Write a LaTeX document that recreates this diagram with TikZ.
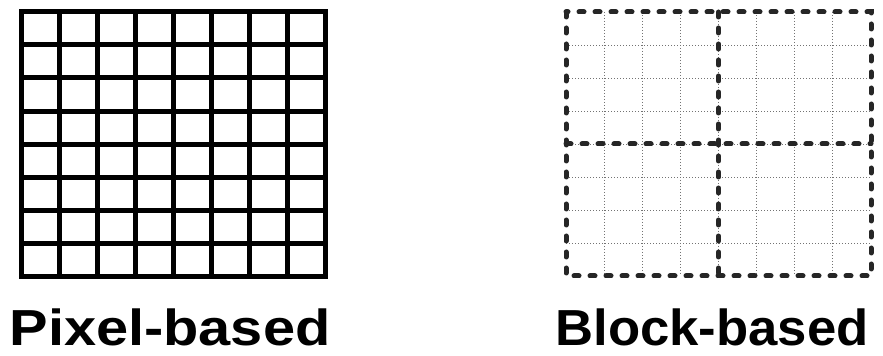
\documentclass[tikz,border=0pt]{standalone}
\usepackage{fontspec}
\setmainfont{Liberation Sans}

\begin{document}
\begin{tikzpicture}[
  x=0.75pt, y=-0.75pt,
  pixelline/.style={draw=black, line width=3.75pt},
  fineline/.style={draw=black!55, line width=0.6pt, dash pattern=on 0.75pt off 1.5pt},
  blockline/.style={draw=black!85, line width=3.75pt, line cap=round, dash pattern=on 3.75pt off 8.25pt},
  caption/.style={font=\bfseries\fontsize{38}{40}\selectfont, inner sep=0pt, anchor=base}
]
  \useasboundingbox (0,0) rectangle (883,356);

  % pixel grid
  \foreach \i in {1,...,7} {
    \draw [pixelline] (21+38*\i,11.5) -- (21+38*\i,277);
    \draw [pixelline] (21,11.5+33.19*\i) -- (325,11.5+33.19*\i);
  }
  \draw [pixelline] (21,11.5) rectangle (325,277);

  % block grid
  \foreach \i in {1,...,7} {
    \draw [fineline] (566+38.125*\i,12) -- (566+38.125*\i,276);
    \draw [fineline] (566,12+33*\i) -- (871,12+33*\i);
  }
  \draw [blockline] (718.5,12) -- (718.5,276);
  \draw [blockline] (566,144) -- (871,144);
  \draw [blockline] (566,12) rectangle (871,276);

  \node [caption, xscale=1.14] (pixellabel) at (170,345) {Pixel-based};
  \node [caption, xscale=1.04] (blocklabel) at (712,345) {Block-based};
\end{tikzpicture}
\end{document}
